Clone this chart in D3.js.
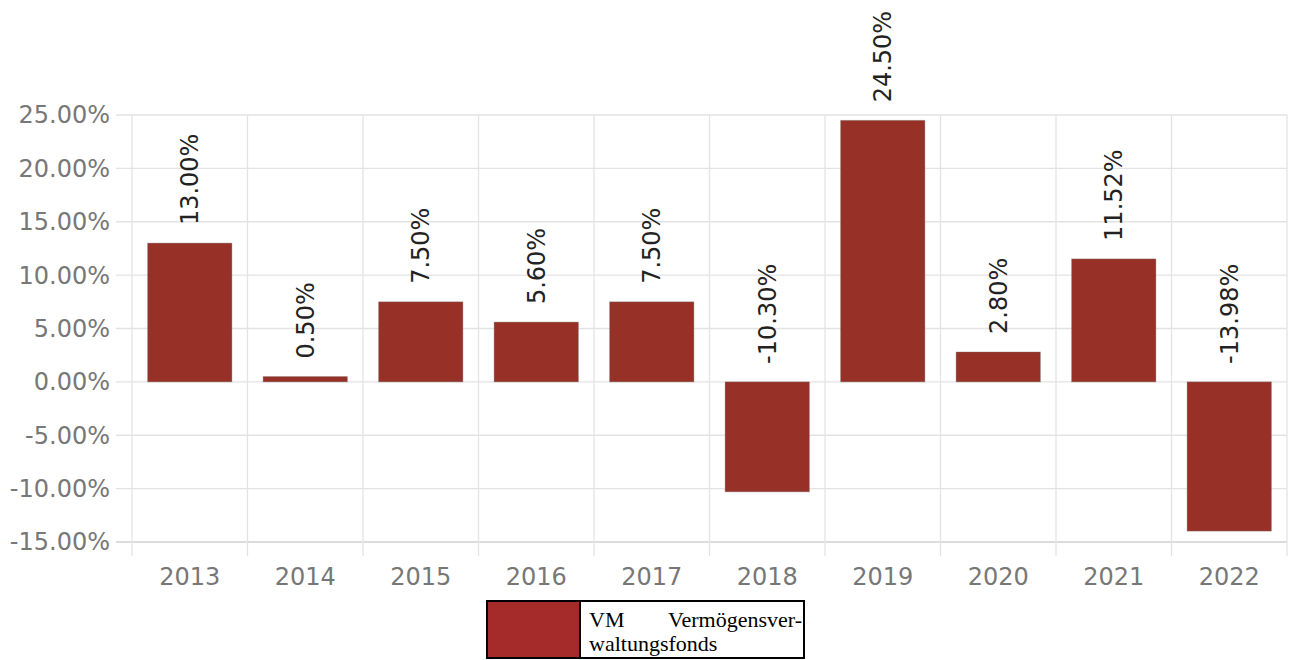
<!DOCTYPE html>
<html>
<head>
<meta charset="utf-8">
<script src="https://cdn.jsdelivr.net/npm/d3@7"></script>
<style>
  body { margin: 0; background: #fff; }
  svg { display: block; }
</style>
</head>
<body>
<svg id="chart" width="1289" height="660"></svg>
<script>
// data
const years = ["2013", "2014", "2015", "2016", "2017", "2018", "2019", "2020", "2021", "2022"];
const returns = [13.00, 0.50, 7.50, 5.60, 7.50, -10.30, 24.50, 2.80, 11.52, -13.98];
const yTicks = [25, 20, 15, 10, 5, 0, -5, -10, -15];
const seriesName = ["VM", "Vermögensver-", "waltungsfonds"];

const barColor = "#973026";
const legendColor = "#a52a2a";

const margin = {top: 115, right: 2, bottom: 118, left: 132},
  width = 1289 - margin.left - margin.right,
  height = 660 - margin.top - margin.bottom;

// plain hyphen instead of unicode minus
const pct = d => d3.format(".2f")(d).replace("\u2212", "-") + "%";

const svg = d3.select("#chart")
  .append("g")
  .attr("transform", "translate(" + margin.left + "," + margin.top + ")");

const x = d3.scaleBand()
  .domain(years)
  .range([0, width])
  .paddingInner(0.27)
  .paddingOuter(0.135);

const y = d3.scaleLinear()
  .domain([-15, 25])
  .range([height, 0]);

// horizontal grid + ticks to the left
svg.append("g")
  .selectAll("line")
  .data(yTicks)
  .enter()
  .append("line")
  .attr("x1", -16)
  .attr("x2", width)
  .attr("y1", d => y(d))
  .attr("y2", d => y(d))
  .attr("stroke", d => d === -15 ? "#d0d0d0" : "#e3e3e3")
  .attr("stroke-width", 1.3);

// vertical grid lines at band edges
const edges = d3.range(years.length + 1).map(i => i * x.step());
svg.append("g")
  .selectAll("line")
  .data(edges)
  .enter()
  .append("line")
  .attr("x1", d => d)
  .attr("x2", d => d)
  .attr("y1", 0)
  .attr("y2", height + 14)
  .attr("stroke", "#e3e3e3")
  .attr("stroke-width", 1.3);

// y axis labels
svg.append("g")
  .selectAll("text")
  .data(yTicks)
  .enter()
  .append("text")
  .attr("x", -22)
  .attr("y", d => y(d))
  .attr("dy", "0.35em")
  .attr("text-anchor", "end")
  .attr("font-family", "DejaVu Sans")
  .attr("font-size", 24)
  .attr("fill", "#777")
  .text(pct);

// x axis labels
svg.append("g")
  .selectAll("text")
  .data(years)
  .enter()
  .append("text")
  .attr("x", d => x(d) + x.bandwidth() / 2)
  .attr("y", height + 35)
  .attr("dy", "0.35em")
  .attr("text-anchor", "middle")
  .attr("font-family", "DejaVu Sans")
  .attr("font-size", 24)
  .attr("fill", "#777")
  .text(d => d);

// bars
svg.selectAll(".bar")
  .data(returns)
  .enter()
  .append("rect")
  .attr("class", "bar")
  .attr("x", (d, i) => x(years[i]))
  .attr("y", d => y(Math.max(0, d)))
  .attr("width", x.bandwidth())
  .attr("height", d => Math.abs(y(d) - y(0)))
  .attr("fill", barColor)
  .attr("stroke", "rgba(120,120,120,0.35)")
  .attr("stroke-width", 1);

// value labels, rotated
svg.selectAll(".lbl")
  .data(returns)
  .enter()
  .append("text")
  .attr("class", "lbl")
  .attr("transform", (d, i) => "translate(" + (x(years[i]) + x.bandwidth() / 2) + "," + (y(Math.max(0, d)) - 18) + ") rotate(-90)")
  .attr("dy", "0.35em")
  .attr("font-family", "DejaVu Sans")
  .attr("font-size", 24)
  .attr("fill", "#222")
  .text(pct);

// legend
const lg = d3.select("#chart").append("g");
lg.append("rect")
  .attr("x", 487).attr("y", 601).attr("width", 93).attr("height", 57)
  .attr("fill", legendColor);
lg.append("rect")
  .attr("x", 487).attr("y", 601).attr("width", 317).attr("height", 57)
  .attr("fill", "none").attr("stroke", "#000").attr("stroke-width", 2);
lg.append("line")
  .attr("x1", 580).attr("x2", 580).attr("y1", 601).attr("y2", 658)
  .attr("stroke", "#000").attr("stroke-width", 2);

const lt = lg.append("g")
  .attr("font-family", "Liberation Serif")
  .attr("font-size", 22)
  .attr("fill", "#000");
lt.append("text").attr("x", 589).attr("y", 627).text(seriesName[0]);
lt.append("text").attr("x", 802).attr("y", 627).attr("text-anchor", "end").text(seriesName[1]);
lt.append("text").attr("x", 589).attr("y", 651).text(seriesName[2]);
</script>
</body>
</html>
